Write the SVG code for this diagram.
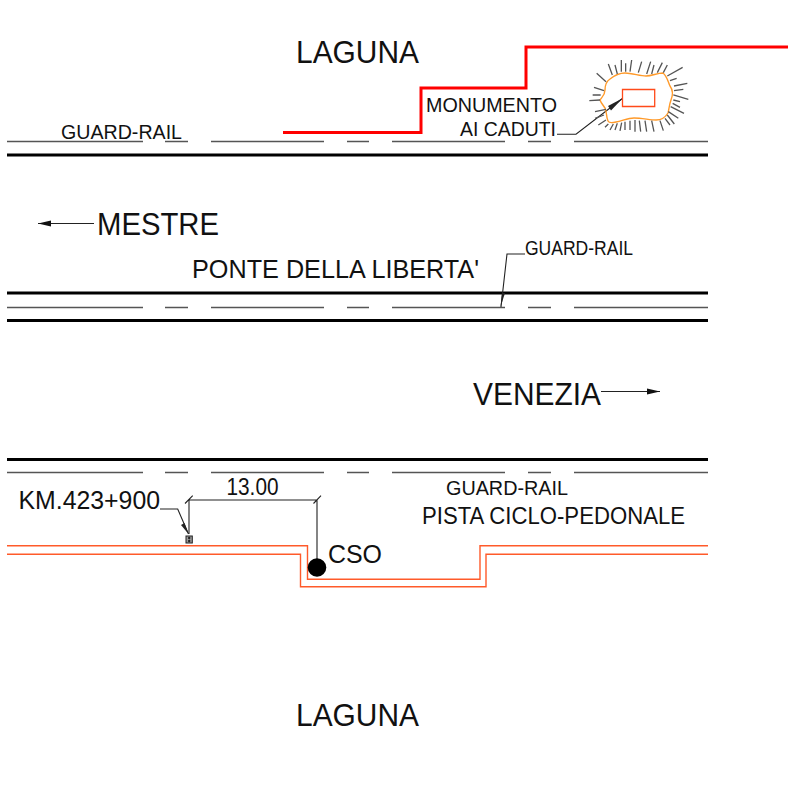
<svg xmlns="http://www.w3.org/2000/svg" width="788" height="788" viewBox="0 0 788 788">
<style>
text{font-family:"Liberation Sans",Arial,sans-serif;fill:#111}
.thick{stroke:#000;stroke-width:3;fill:none}
.thin{stroke:#555;stroke-width:1.3;fill:none}
.lead{stroke:#222;stroke-width:1.1;fill:none}
.or{stroke:#ff5a2a;stroke-width:1.4;fill:none}
.ray{stroke:#555;stroke-width:3.9;fill:none}
</style>
<defs>
<path id="rail" d="M7 0H143M165 0H188M211 0H324M347 0H369M392 0H505M528 0H551M574 0H708"/>
</defs>
<rect width="788" height="788" fill="#fff"/>
<g id="connectors">
<path class="thick" d="M7 155H708M7 293H708M7 320.500H708M7 459.500H708"/>
<use href="#rail" y="141.500" class="thin"/>
<use href="#rail" y="307.500" class="thin"/>
<use href="#rail" y="472.500" class="thin"/>
<path d="M283 132.500H421V88H526V47H788" fill="none" stroke="#f00" stroke-width="3"/>
<path class="or" d="M7 545.700H307.500V579.300H480V545.700H708"/>
<path class="or" d="M7 554.300H300.500V586.700H486V554.300H708"/>
<path class="lead" d="M94 223.500H38M601 391.500H660"/>
<path d="M38 223.500L51 220.500V226.500Z" fill="#111"/>
<path d="M660 391.500L647 388.500V394.500Z" fill="#111"/>
<path class="lead" d="M557 134.300H576L622.700 98.300"/>
<path d="M622.700 98.300L608 106L611 110.500Z" fill="#222"/>
<path class="lead" d="M525 254H507L501 307"/>
<path d="M500.500 307L502 293H505Z" fill="#222"/>
<path class="lead" d="M160 509H177.700L188.500 534"/>
<path d="M188.500 534L181 525L184.500 523Z" fill="#222"/>
<path class="lead" d="M189 500V534M189 500H317V560M185 503.500L192.700 495.700M313.500 503.500L321 495.700"/>
</g>
<g id="monumento">
<path d="M622.500 89.500H654.700V106.500H622.500Z" fill="none" stroke="#ff4a1a" stroke-width="1.300"/>
<path d="M600 100C602 97 605 95 605 90C605 84 607 81 610 79C615 75 620 73 625 73C632 73 640 76 646 76C652 76 657 73 663 73C667 76 668 82 670 86C673 90 673 95 671 100C669 105 669 110 668 113C665 118 662 120 656 120C650 120 642 118 634 118C628 118 622 121 616 122C612 123 609 123 608 121C606 117 607 112 605 108C603 105 601 103 600 100Z" fill="none" stroke="#ff9a2a" stroke-width="1.400"/>
<g transform="translate(580 50) scale(.3333)">
<path class="ray" d="M85 42L97 75M105 45L112 72M124 30V65M137 40V65M155 30L150 65M185 35L175 68M212 35L200 72M222 45L215 72M247 38L232 68M262 45L250 68M308 52L262 78M290 85L270 92M322 100L282 108M310 118L282 122M325 148L280 135M300 155L280 150M300 172L278 160M312 190L272 170M295 205L265 185M283 222L262 195M270 225L255 205M250 242L240 212M222 245L215 212M200 245L195 212M182 245L178 212M165 245V210M150 240V212M135 240V215M120 243L125 218M105 240L112 220M90 240L100 222M75 232L85 222M55 225L78 210M45 205L72 195M45 185L78 178M28 152L60 150M38 135L62 135M42 112L72 122M50 70L78 95"/>
</g>
</g>
<g id="km-marker">
<rect x="186" y="536" width="6.300" height="7" fill="#999" stroke="#222" stroke-width="1"/>
<circle cx="189.200" cy="538" r="1.200" fill="#222"/>
<circle cx="189.200" cy="541" r="1.200" fill="#222"/>
</g>
<g id="cso">
<circle cx="317" cy="567.500" r="9.300" fill="#000"/>
<text x="328" y="563.300" font-size="25.500" textLength="54" lengthAdjust="spacingAndGlyphs">CSO</text>
</g>
<g id="labels">
<text x="296" y="63.300" font-size="31" textLength="123" lengthAdjust="spacingAndGlyphs">LAGUNA</text>
<text x="296" y="726.300" font-size="31" textLength="123" lengthAdjust="spacingAndGlyphs">LAGUNA</text>
<text x="61" y="138.500" font-size="20.800" textLength="121" lengthAdjust="spacingAndGlyphs">GUARD-RAIL</text>
<text x="426" y="111.800" font-size="20.500" textLength="131" lengthAdjust="spacingAndGlyphs">MONUMENTO</text>
<text x="460" y="135.500" font-size="20.500" textLength="96" lengthAdjust="spacingAndGlyphs">AI CADUTI</text>
<text x="97" y="235" font-size="32" textLength="122" lengthAdjust="spacingAndGlyphs">MESTRE</text>
<text x="192" y="278.300" font-size="25.700" textLength="287" lengthAdjust="spacingAndGlyphs">PONTE DELLA LIBERTA'</text>
<text x="525" y="255" font-size="19.400" textLength="108" lengthAdjust="spacingAndGlyphs">GUARD-RAIL</text>
<text x="473" y="405" font-size="32" textLength="128" lengthAdjust="spacingAndGlyphs">VENEZIA</text>
<text x="446" y="495" font-size="20.800" textLength="122" lengthAdjust="spacingAndGlyphs">GUARD-RAIL</text>
<text x="422" y="524" font-size="24.300" textLength="263" lengthAdjust="spacingAndGlyphs">PISTA CICLO-PEDONALE</text>
<text x="18.500" y="509.300" font-size="25.700" textLength="141.500" lengthAdjust="spacingAndGlyphs">KM.423+900</text>
<text x="226.500" y="495" font-size="24" textLength="52" lengthAdjust="spacingAndGlyphs">13.00</text>
</g>
</svg>
